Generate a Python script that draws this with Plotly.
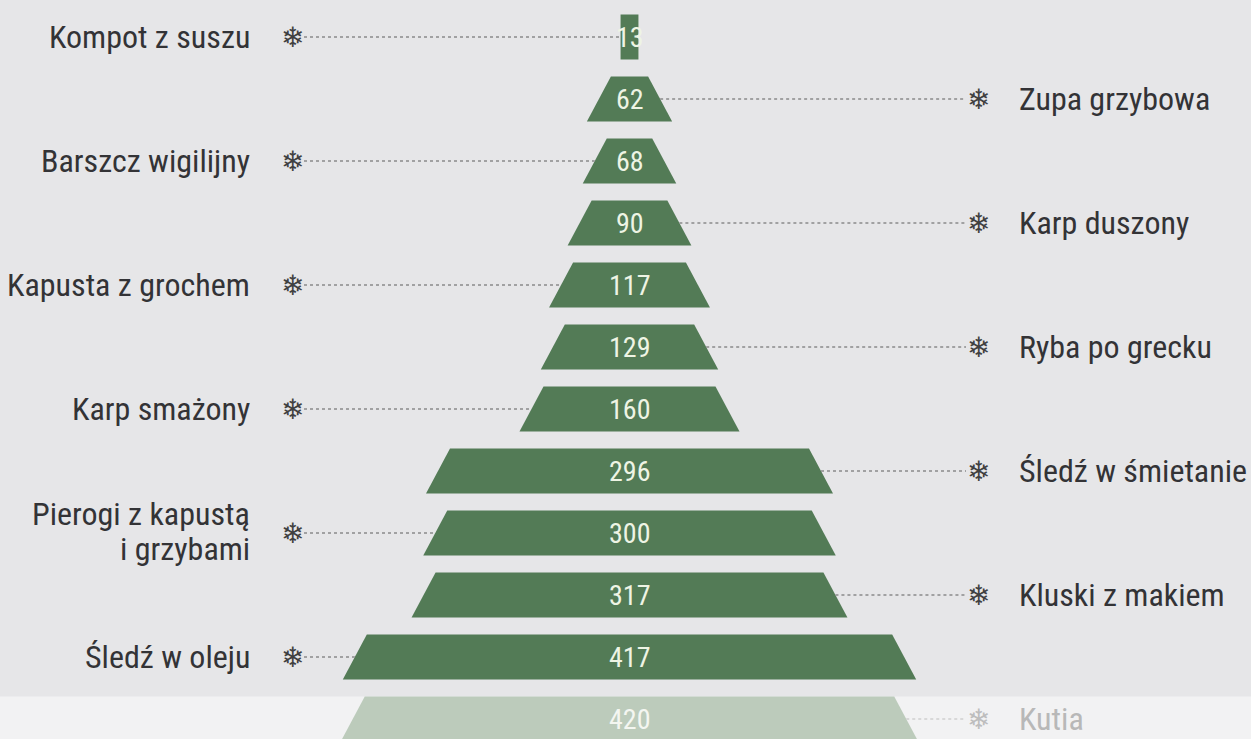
import plotly.graph_objects as go

# ---- data ----
dishes = ["Kompot z suszu", "Zupa grzybowa", "Barszcz wigilijny", "Karp duszony",
          "Kapusta z grochem", "Ryba po grecku", "Karp smażony", "Śledź w śmietanie",
          "Pierogi z kapustą\ni grzybami", "Kluski z makiem", "Śledź w oleju", "Kutia"]
values = [13, 62, 68, 90, 117, 129, 160, 296, 300, 317, 417, 420]
faded = [False] * 11 + [True]

# ---- layout constants (pixels) ----
W, H = 1251, 739
PX = 1.375          # pixels per value unit
CENTER_PX = 629.5
ROW_PX = 62
FIRST_PX = 37
BAR_H_PX = 45
SLANT_PX = 24

def ux(px):
    return (px - CENTER_PX) / PX

half = BAR_H_PX / 2 / ROW_PX
slant = SLANT_PX / PX

BG = "#e6e6e8"
BAND = "#f2f2f3"
FONT = "Roboto Condensed, DejaVu Sans Condensed, sans-serif"

fig = go.Figure()
annotations = []

for i, (name, v, fd) in enumerate(zip(dishes, values, faded)):
    b = v / 2
    t = b - slant if b - slant > 0 else b
    mid = (b + t) / 2
    bar_col = "#bccbbb" if fd else "#537b56"
    num_col = "#f4f6f1" if fd else "#eef4e4"
    lab_col = "#b8b8b8" if fd else "#333336"
    snow_col = "#bdbdbd" if fd else "#404040"
    line_col = "#cfcfcf" if fd else "#8a8a8a"

    fig.add_trace(go.Scatter(
        x=[-b, b, t, -t, -b],
        y=[i + half, i + half, i - half, i - half, i + half],
        mode="lines", fill="toself", fillcolor=bar_col,
        line=dict(width=0, color=bar_col), hoverinfo="skip", showlegend=False))

    annotations.append(dict(x=0, y=i, xref="x", yref="y", text=str(v), showarrow=False,
                            font=dict(family=FONT, size=28, color=num_col),
                            xanchor="center", yanchor="middle"))

    left = (i % 2 == 0)
    if left:
        lx = [ux(304), -mid]
        sx = ux(292)
        tx = ux(252)
        anchor = "right"
    else:
        lx = [mid, ux(966)]
        sx = ux(978)
        tx = ux(1017)
        anchor = "left"

    fig.add_trace(go.Scatter(x=lx, y=[i, i], mode="lines",
                             line=dict(color=line_col, width=1.6, dash="dot"),
                             hoverinfo="skip", showlegend=False))
    annotations.append(dict(x=sx, y=i, xref="x", yref="y", text="❄", showarrow=False,
                            font=dict(family="DejaVu Sans", size=28, color=snow_col),
                            xanchor="center", yanchor="middle"))

    lines = name.split("\n")
    if len(lines) == 1:
        shifts = [0]
    else:
        shifts = [19, -16]
    for ln, sh in zip(lines, shifts):
        annotations.append(dict(x=tx, y=i, xref="x", yref="y", text=ln, showarrow=False,
                                font=dict(family=FONT, size=32, color=lab_col),
                                xanchor=anchor, yanchor="middle", yshift=sh,
                                align=anchor, height=34, valign="middle"))

n = len(values)
y_bottom = (H - FIRST_PX) / ROW_PX
y_top = -FIRST_PX / ROW_PX

shapes = [dict(type="rect", xref="paper", x0=0, x1=1, yref="y",
               y0=(n - 1) - half, y1=y_bottom + 1, fillcolor=BAND,
               line=dict(width=0), layer="below")]

fig.update_layout(
    width=W, height=H,
    margin=dict(l=0, r=0, t=0, b=0),
    paper_bgcolor=BG, plot_bgcolor=BG,
    xaxis=dict(range=[ux(0), ux(W)], visible=False, fixedrange=True),
    yaxis=dict(range=[y_bottom, y_top], visible=False, fixedrange=True),
    annotations=annotations, shapes=shapes,
    hovermode=False, showlegend=False,
)

fig.write_html("out.html", config={"displayModeBar": False},
               post_script="document.body.style.margin='0';document.body.style.overflow='hidden';")
